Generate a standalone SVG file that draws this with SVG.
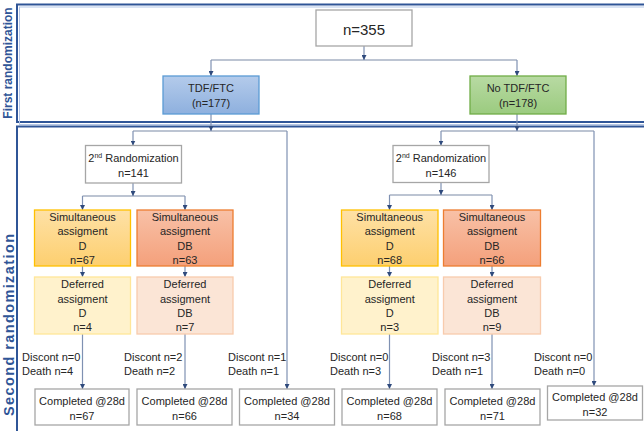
<svg xmlns="http://www.w3.org/2000/svg" width="644" height="431" viewBox="0 0 644 431">
<defs>
<style>
text{font-family:"Liberation Sans",Arial,sans-serif;font-size:11px;fill:#262626;text-anchor:middle}
.big{font-size:15px}
.lbl{text-anchor:start}
.sec{font-size:12px;font-weight:bold;fill:#2F5597}
.sec2{font-size:14.5px}
.frame{fill:none;stroke:#2F5597;stroke-width:2}
.frame2{fill:none;stroke:#B4C7E7;stroke-width:1}
.wbox{fill:#fff;stroke:#A6A6A6;stroke-width:1.3}
.sd{fill:url(#gD);stroke:#FFC000;stroke-width:1.3}
.sdb{fill:url(#gDB);stroke:#ED7D31;stroke-width:1.3}
.dd{fill:#FFF2CC;stroke:#FFE699;stroke-width:1.3}
.ddb{fill:#FBE5D6;stroke:#F8CBAD;stroke-width:1.3}
.h{fill:none;stroke:#BCC4D2;stroke-width:2}
.v{fill:none;stroke:#7F91B2;stroke-width:1.2;marker-end:url(#ah)}
</style>
<linearGradient id="gBlue" x1="0" y1="0" x2="0" y2="1"><stop offset="0" stop-color="#B4CBEB"/><stop offset="1" stop-color="#8EB0DE"/></linearGradient>
<linearGradient id="gGreen" x1="0" y1="0" x2="0" y2="1"><stop offset="0" stop-color="#B8DAA3"/><stop offset="1" stop-color="#9BCB7F"/></linearGradient>
<linearGradient id="gD" x1="0" y1="0" x2="0" y2="1"><stop offset="0" stop-color="#FEE1A6"/><stop offset="1" stop-color="#FDCF6F"/></linearGradient>
<linearGradient id="gDB" x1="0" y1="0" x2="0" y2="1"><stop offset="0" stop-color="#F8C1A7"/><stop offset="1" stop-color="#F4A07B"/></linearGradient>
<marker id="ah" viewBox="0 0 10 10" refX="10" refY="5" markerWidth="5" markerHeight="5" markerUnits="userSpaceOnUse" orient="auto"><path d="M0,0 L10,5 L0,10 z" fill="#2F4A7C"/></marker>
</defs>

<g id="frames">
<rect class="frame" x="17" y="4.5" width="640" height="117.5"/>
<rect class="frame2" x="19.5" y="7" width="640" height="117.5"/>
<rect class="frame" x="17" y="126.5" width="640" height="320"/>
<text class="sec" transform="translate(12,63) rotate(-90)">First randomization</text>
<text class="sec sec2" textLength="182" lengthAdjust="spacing" transform="translate(13.5,325) rotate(-90)">Second randomization</text>
</g>

<g id="connectors">
<path class="h" d="M211,60 H517"/>
<path class="v" d="M364,46 V60"/>
<path class="v" d="M211,60 V76"/>
<path class="v" d="M517,60 V76"/>

<path class="h" d="M133,131 H287"/>
<path class="v" d="M211,114 V131"/>
<path class="v" d="M133,131 V145.5"/>
<path class="v" d="M287,131 V389"/>

<path class="h" d="M441,131 H594"/>
<path class="v" d="M517,114 V131"/>
<path class="v" d="M441,131 V145.5"/>
<path class="v" d="M594,131 V386"/>

<path class="h" d="M82.5,196 H185"/>
<path class="v" d="M133,183 V196"/>
<path class="v" d="M82.5,196 V210"/>
<path class="v" d="M185,196 V210"/>

<path class="h" d="M389.5,195 H492"/>
<path class="v" d="M441,182.5 V195"/>
<path class="v" d="M389.5,195 V210"/>
<path class="v" d="M492,195 V210"/>

<path class="v" d="M82.5,266 V277"/>
<path class="v" d="M185,266 V277"/>
<path class="v" d="M389.5,266 V277"/>
<path class="v" d="M492,266 V277"/>

<path class="v" d="M82.5,334 V389"/>
<path class="v" d="M185,334 V389"/>
<path class="v" d="M389.5,334 V389"/>
<path class="v" d="M492,334 V389"/>
</g>

<g id="n355">
<rect class="wbox" x="316" y="10" width="96" height="36"/>
<text class="big" x="364" y="34.5">n=355</text>
</g>
<g id="tdf">
<rect x="163" y="76" width="96" height="38" fill="url(#gBlue)" stroke="#5B9BD5" stroke-width="1.3"/>
<text x="211" y="92">TDF/FTC</text>
<text x="211" y="107">(n=177)</text>
</g>
<g id="notdf">
<rect x="470" y="76" width="96" height="38" fill="url(#gGreen)" stroke="#70AD47" stroke-width="1.3"/>
<text x="518" y="92">No TDF/FTC</text>
<text x="518" y="107">(n=178)</text>
</g>

<g id="rand2L">
<rect class="wbox" x="85.5" y="145.5" width="96" height="37.5"/>
<text x="133.5" y="161.5">2<tspan font-size="7" dy="-4">nd</tspan><tspan dy="4"> Randomization</tspan></text>
<text x="133.5" y="176.5">n=141</text>
</g>
<g id="simDL">
<rect class="sd" x="34.5" y="210" width="96" height="56"/>
<text x="82.5" y="221">Simultaneous</text>
<text x="82.5" y="235">assigment</text>
<text x="82.5" y="250">D</text>
<text x="82.5" y="264">n=67</text>
</g>
<g id="simDBL">
<rect class="sdb" x="137" y="210" width="96" height="56"/>
<text x="185" y="221">Simultaneous</text>
<text x="185" y="235">assigment</text>
<text x="185" y="250">DB</text>
<text x="185" y="264">n=63</text>
</g>
<g id="defDL">
<rect class="dd" x="34.5" y="277" width="96" height="57"/>
<text x="82.5" y="288">Deferred</text>
<text x="82.5" y="303">assigment</text>
<text x="82.5" y="317">D</text>
<text x="82.5" y="331">n=4</text>
</g>
<g id="defDBL">
<rect class="ddb" x="137" y="277" width="96" height="57"/>
<text x="185" y="288">Deferred</text>
<text x="185" y="303">assigment</text>
<text x="185" y="317">DB</text>
<text x="185" y="331">n=7</text>
</g>

<g id="rand2R">
<rect class="wbox" x="393" y="145.5" width="96" height="37"/>
<text x="441" y="161.5">2<tspan font-size="7" dy="-4">nd</tspan><tspan dy="4"> Randomization</tspan></text>
<text x="441" y="176.5">n=146</text>
</g>
<g id="simDR">
<rect class="sd" x="341.5" y="210" width="96.5" height="56"/>
<text x="389.7" y="221">Simultaneous</text>
<text x="389.7" y="235">assigment</text>
<text x="389.7" y="250">D</text>
<text x="389.7" y="264">n=68</text>
</g>
<g id="simDBR">
<rect class="sdb" x="443.5" y="210" width="97" height="56"/>
<text x="492" y="221">Simultaneous</text>
<text x="492" y="235">assigment</text>
<text x="492" y="250">DB</text>
<text x="492" y="264">n=66</text>
</g>
<g id="defDR">
<rect class="dd" x="341.5" y="277" width="96.5" height="57"/>
<text x="389.7" y="288">Deferred</text>
<text x="389.7" y="303">assigment</text>
<text x="389.7" y="317">D</text>
<text x="389.7" y="331">n=3</text>
</g>
<g id="defDBR">
<rect class="ddb" x="443.5" y="277" width="97" height="57"/>
<text x="492" y="288">Deferred</text>
<text x="492" y="303">assigment</text>
<text x="492" y="317">DB</text>
<text x="492" y="331">n=9</text>
</g>

<g id="lossL1"><text class="lbl" x="22" y="361">Discont n=0</text><text class="lbl" x="22" y="375">Death n=4</text></g>
<g id="lossL2"><text class="lbl" x="124" y="361">Discont n=2</text><text class="lbl" x="124" y="375">Death n=2</text></g>
<g id="lossL3"><text class="lbl" x="228" y="361">Discont n=1</text><text class="lbl" x="228" y="375">Death n=1</text></g>
<g id="lossR1"><text class="lbl" x="330" y="361">Discont n=0</text><text class="lbl" x="330" y="375">Death n=3</text></g>
<g id="lossR2"><text class="lbl" x="432" y="361">Discont n=3</text><text class="lbl" x="432" y="375">Death n=1</text></g>
<g id="lossR3"><text class="lbl" x="534" y="361">Discont n=0</text><text class="lbl" x="534" y="375">Death n=0</text></g>

<g id="comp1"><rect class="wbox" x="35" y="389" width="94" height="36"/><text x="82" y="404.5">Completed @28d</text><text x="82" y="420">n=67</text></g>
<g id="comp2"><rect class="wbox" x="137" y="389" width="95" height="36"/><text x="184.5" y="404.5">Completed @28d</text><text x="184.5" y="420">n=66</text></g>
<g id="comp3"><rect class="wbox" x="239.5" y="389" width="95" height="36"/><text x="287" y="404.5">Completed @28d</text><text x="287" y="420">n=34</text></g>
<g id="comp4"><rect class="wbox" x="342" y="389" width="95" height="36"/><text x="389.5" y="404.5">Completed @28d</text><text x="389.5" y="420">n=68</text></g>
<g id="comp5"><rect class="wbox" x="445" y="389" width="95" height="36"/><text x="492.5" y="404.5">Completed @28d</text><text x="492.5" y="420">n=71</text></g>
<g id="comp6"><rect class="wbox" x="547.5" y="386" width="95" height="34"/><text x="595" y="401">Completed @28d</text><text x="595" y="416">n=32</text></g>
</svg>
